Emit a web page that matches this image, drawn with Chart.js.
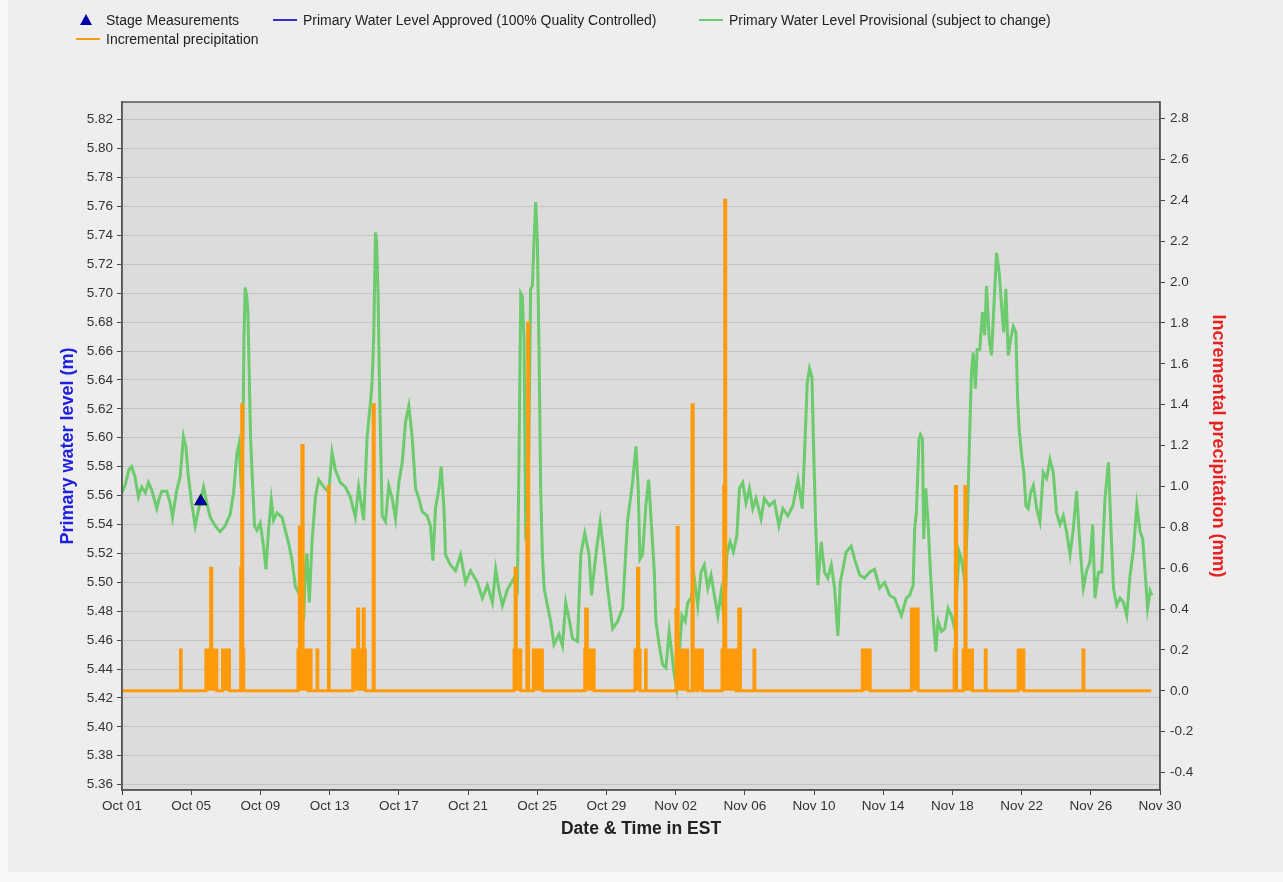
<!DOCTYPE html>
<html>
<head>
<meta charset="utf-8">
<script src="https://cdn.jsdelivr.net/npm/chart.js@4.4.1/dist/chart.umd.min.js"></script>
<style>
html,body{margin:0;padding:0;background:#eeeeee;}
#wrap{position:relative;width:1283px;height:882px;overflow:hidden;}
canvas{position:absolute;left:0;top:0;}
.lg{position:absolute;display:flex;align-items:center;font-family:"Liberation Sans",Arial,sans-serif;font-size:14px;color:#222;white-space:nowrap;height:18px;}
.sw{display:inline-block;width:24px;height:18px;position:relative;margin-right:6px;}
.sw .ln{position:absolute;left:0;right:0;top:8px;height:2px;}
.sw .tri{position:absolute;left:4px;top:3px;width:0;height:0;border-left:6px solid transparent;border-right:6px solid transparent;border-bottom:11px solid #0000aa;}
</style>
</head>
<body>
<div id="wrap"><canvas id="c" width="1283" height="882"></canvas></div>
<script>
// ---- data (day offset from Oct 01 00:00 EST) ----
const levelDays = [
 0.00,0.20,0.40,0.56,0.75,0.95,1.14,1.35,1.53,1.72,2.01,2.15,2.30,2.59,2.78,2.92,3.05,3.17,3.36,3.46,
 3.55,3.69,3.84,4.00,4.12,4.23,4.42,4.71,4.90,5.10,5.39,5.67,5.96,6.25,6.45,6.64,6.77,6.89,6.99,7.05,
 7.12,7.22,7.28,7.35,7.43,7.51,7.60,7.66,7.80,7.99,8.18,8.32,8.47,8.63,8.76,8.96,9.25,9.44,9.63,9.82,
 10.02,10.21,10.36,10.50,10.60,10.69,10.83,10.98,11.18,11.37,11.66,11.95,12.14,12.33,12.62,12.91,13.20,13.49,13.68,13.97,
 14.17,14.36,14.45,14.55,14.65,14.72,14.80,14.88,14.96,15.04,15.23,15.42,15.62,15.81,16.00,16.20,16.39,16.58,16.77,16.97,
 17.16,17.35,17.64,17.83,17.97,18.12,18.32,18.45,18.61,18.70,18.99,19.28,19.57,19.86,20.15,20.54,20.83,21.12,21.41,21.60,
 21.79,21.99,22.28,22.66,22.85,22.95,23.05,23.14,23.24,23.34,23.43,23.53,23.62,23.72,23.82,23.91,24.01,24.11,24.20,24.30,
 24.40,24.59,24.78,24.97,25.26,25.46,25.65,25.84,26.04,26.33,26.52,26.75,27.00,27.14,27.39,27.64,27.87,28.07,28.36,28.65,
 28.94,29.22,29.51,29.71,29.84,29.94,30.09,30.28,30.44,30.57,30.77,30.86,31.05,31.25,31.44,31.63,31.79,31.92,32.06,32.21,
 32.37,32.56,32.70,32.89,33.08,33.28,33.47,33.66,33.86,34.05,34.24,34.44,34.63,34.82,34.96,35.15,35.34,35.54,35.69,35.88,
 36.07,36.27,36.46,36.65,36.94,37.13,37.42,37.71,37.97,38.20,38.49,38.78,39.07,39.32,39.45,39.61,39.74,39.88,39.97,40.09,
 40.22,40.42,40.61,40.80,41.00,41.19,41.38,41.52,41.67,41.86,42.15,42.35,42.64,42.92,43.21,43.50,43.79,44.08,44.37,44.66,
 45.05,45.34,45.53,45.73,45.82,45.92,46.07,46.15,46.27,46.34,46.46,46.59,46.73,46.88,47.04,47.17,47.37,47.56,47.75,47.94,
 48.14,48.23,48.39,48.52,48.72,48.85,49.01,49.10,49.20,49.33,49.43,49.58,49.74,49.87,49.97,50.13,50.26,50.40,50.55,50.71,
 50.84,50.97,51.09,51.23,51.36,51.52,51.67,51.77,51.86,52.00,52.13,52.25,52.38,52.52,52.68,52.87,53.06,53.25,53.45,53.64,
 53.83,54.02,54.22,54.41,54.60,54.80,54.99,55.18,55.37,55.57,55.76,55.95,56.11,56.24,56.44,56.63,56.82,57.02,57.15,57.31,
 57.50,57.69,57.89,58.08,58.27,58.47,58.66,58.85,59.00,59.14,59.28,59.43,59.53
];
const levelValues = [
 5.562,5.568,5.578,5.580,5.573,5.559,5.566,5.562,5.569,5.564,5.551,5.558,5.563,5.563,5.555,5.545,5.555,5.564,5.573,5.587,
 5.601,5.594,5.573,5.557,5.548,5.539,5.550,5.566,5.555,5.545,5.539,5.535,5.539,5.547,5.562,5.589,5.596,5.566,5.600,5.670,
 5.704,5.697,5.686,5.647,5.601,5.578,5.555,5.539,5.536,5.541,5.525,5.509,5.536,5.557,5.543,5.548,5.545,5.536,5.527,5.516,
 5.497,5.493,5.486,5.474,5.509,5.520,5.486,5.527,5.559,5.571,5.566,5.562,5.590,5.578,5.569,5.566,5.559,5.545,5.566,5.543,
 5.601,5.624,5.637,5.670,5.742,5.735,5.700,5.640,5.590,5.546,5.542,5.567,5.558,5.544,5.569,5.583,5.611,5.622,5.601,5.565,
 5.558,5.549,5.546,5.539,5.515,5.551,5.565,5.580,5.551,5.519,5.512,5.508,5.519,5.500,5.508,5.500,5.489,5.498,5.486,5.509,
 5.495,5.484,5.495,5.503,5.491,5.588,5.700,5.698,5.668,5.530,5.528,5.611,5.703,5.705,5.737,5.763,5.737,5.657,5.565,5.519,
 5.496,5.484,5.473,5.457,5.464,5.456,5.486,5.475,5.461,5.459,5.519,5.534,5.519,5.491,5.519,5.542,5.519,5.496,5.468,5.473,
 5.482,5.542,5.569,5.594,5.565,5.516,5.519,5.553,5.571,5.546,5.507,5.473,5.457,5.443,5.441,5.466,5.450,5.436,5.427,5.450,
 5.477,5.473,5.486,5.489,5.503,5.484,5.507,5.512,5.496,5.505,5.491,5.477,5.493,5.473,5.519,5.528,5.521,5.532,5.565,5.569,
 5.555,5.565,5.551,5.558,5.544,5.558,5.553,5.556,5.539,5.551,5.546,5.553,5.571,5.551,5.588,5.638,5.648,5.642,5.597,5.542,
 5.498,5.528,5.507,5.503,5.512,5.496,5.463,5.500,5.509,5.521,5.525,5.516,5.505,5.503,5.507,5.509,5.496,5.500,5.491,5.489,
 5.477,5.489,5.491,5.498,5.537,5.549,5.599,5.602,5.599,5.530,5.565,5.542,5.507,5.477,5.452,5.473,5.466,5.468,5.482,5.477,
 5.468,5.489,5.521,5.516,5.500,5.537,5.608,5.645,5.659,5.634,5.661,5.661,5.687,5.671,5.705,5.668,5.657,5.691,5.728,5.714,
 5.691,5.673,5.703,5.657,5.668,5.677,5.673,5.627,5.606,5.588,5.576,5.553,5.551,5.562,5.567,5.551,5.542,5.576,5.572,5.585,
 5.576,5.548,5.540,5.546,5.535,5.519,5.537,5.563,5.526,5.496,5.508,5.514,5.540,5.489,5.507,5.507,5.558,5.583,5.542,5.496,
 5.484,5.489,5.486,5.477,5.505,5.523,5.553,5.535,5.530,5.507,5.482,5.494,5.491
];
const stageDays = [4.55];
const stageValues = [5.556];
const precipStart = [3.38,4.85,5.12,5.19,5.81,6.86,6.92,6.98,10.17,10.25,10.34,10.40,10.47,10.88,11.27,11.93,13.34,13.62,13.68,13.94,
 14.00,14.52,22.66,22.72,22.79,23.40,23.45,23.78,26.75,26.80,26.90,29.65,29.80,29.87,30.26,32.02,32.09,32.15,32.95,33.05,
 33.30,34.68,34.78,34.84,34.90,35.65,36.53,42.79,45.63,48.10,48.17,48.62,48.72,48.79,49.90,51.80,55.55];
const precipEnd = [3.42,5.12,5.19,5.48,6.21,6.92,6.98,7.04,10.25,10.34,10.40,10.47,10.75,10.93,11.32,11.98,13.62,13.68,13.94,14.00,
 14.07,14.58,22.72,22.79,23.05,23.45,23.51,24.30,26.80,26.90,27.29,29.80,29.87,29.95,30.30,32.09,32.15,32.70,33.02,33.25,
 33.55,34.78,34.84,34.90,35.50,35.75,36.58,43.25,46.02,48.17,48.24,48.72,48.79,49.16,49.95,52.13,55.60];
const precipValue = [0.2,0.2,0.6,0.2,0.2,0.6,1.4,0.2,0.2,0.8,0.2,1.2,0.2,0.2,0.2,1.0,0.2,0.4,0.2,0.4,
 0.2,1.4,0.2,0.6,0.2,0.8,1.8,0.2,0.2,0.4,0.2,0.2,0.6,0.2,0.2,0.4,0.8,0.2,1.4,0.2,
 0.2,0.2,1.0,2.4,0.2,0.4,0.2,0.2,0.4,0.2,1.0,0.2,1.0,0.2,0.2,0.2,0.2];
const precipLastDay = 59.5;
const xTickLabels = ['Oct 01','Oct 05','Oct 09','Oct 13','Oct 17','Oct 21','Oct 25','Oct 29','Nov 02','Nov 06','Nov 10','Nov 14','Nov 18','Nov 22','Nov 26','Nov 30'];
const leftTicks = [5.36,5.38,5.40,5.42,5.44,5.46,5.48,5.50,5.52,5.54,5.56,5.58,5.60,5.62,5.64,5.66,5.68,5.70,5.72,5.74,5.76,5.78,5.80,5.82];
const rightTicks = [-0.4,-0.2,0.0,0.2,0.4,0.6,0.8,1.0,1.2,1.4,1.6,1.8,2.0,2.2,2.4,2.6,2.8];

// ---- build datasets ----
const levelPoints = levelDays.map((d, i) => ({x: d, y: levelValues[i]}));
const stagePoints = stageDays.map((d, i) => ({x: d, y: stageValues[i]}));
const precipPoints = [{x: 0, y: 0}];
for (let i = 0; i < precipStart.length; i++) {
  precipPoints.push({x: precipStart[i], y: precipValue[i]});
  const next = precipStart[i + 1];
  if (next === undefined || Math.abs(next - precipEnd[i]) > 1e-9) {
    precipPoints.push({x: precipEnd[i], y: 0});
  }
}
precipPoints.push({x: precipLastDay, y: 0});

const FONT = "'Liberation Sans', Arial, Helvetica, sans-serif";
Chart.defaults.font.family = FONT;

const bgPlugin = {
  id: 'bgPlugin',
  beforeDraw(chart) {
    const {ctx, chartArea: a} = chart;
    ctx.save();
    ctx.fillStyle = '#f7f7f7';
    ctx.fillRect(0, 0, chart.width, chart.height);
    ctx.fillStyle = '#eeeeee';
    ctx.fillRect(8, 0, chart.width - 8, 872);
    ctx.fillStyle = '#dcdcdc';
    ctx.fillRect(a.left, a.top, a.right - a.left, a.bottom - a.top);
    ctx.restore();
  },
  afterDraw(chart) {
    const {ctx, chartArea: a} = chart;
    ctx.save();
    ctx.strokeStyle = '#555555';
    ctx.lineWidth = 1.5;
    ctx.strokeRect(a.left, a.top, a.right - a.left, a.bottom - a.top);
    ctx.restore();
  }
};

const tickFont = {size: 13.5};
const chart = new Chart(document.getElementById('c'), {
  type: 'line',
  data: {
    datasets: [
      {label: 'Stage Measurements', data: stagePoints, showLine: false, pointStyle: 'triangle',
       pointRadius: 7, backgroundColor: '#0000aa', borderColor: '#000044', borderWidth: 1, yAxisID: 'y', order: 0},
      {label: 'Primary Water Level Approved (100% Quality Controlled)', data: [], borderColor: '#3333cc',
       backgroundColor: '#3333cc', pointRadius: 0, yAxisID: 'y', order: 3},
      {label: 'Primary Water Level Provisional (subject to change)', data: levelPoints, borderColor: '#6ccb6c',
       backgroundColor: '#6ccb6c', borderWidth: 3, pointRadius: 0, tension: 0, yAxisID: 'y', order: 2},
      {label: 'Incremental precipitation', data: precipPoints, stepped: true, borderColor: '#ff9a0a',
       backgroundColor: '#ff9a0a', fill: 'origin', borderWidth: 3, pointRadius: 0, yAxisID: 'y1', order: 1}
    ]
  },
  options: {
    responsive: false,
    animation: false,
    events: [],
    devicePixelRatio: 1,
    layout: {padding: {top: 102, left: 0, right: 0, bottom: 0}},
    plugins: {legend: {display: false}, tooltip: {enabled: false}},
    scales: {
      x: {
        type: 'linear', position: 'bottom', min: 0, max: 60,
        afterFit(s) { s.height = 92; },
        ticks: {stepSize: 4, autoSkip: false, maxRotation: 0, padding: 3, color: '#333', font: tickFont,
                callback: (v) => { const k = Math.round(v / 4); return xTickLabels[k] !== undefined ? xTickLabels[k] : ''; }},
        grid: {drawOnChartArea: false, drawTicks: true, tickLength: 5, tickColor: '#444'},
        border: {display: true, color: '#555', width: 1.5},
        title: {display: true, text: 'Date & Time in EST', color: '#222', font: {size: 17.5, weight: 'bold'},
                padding: {top: 0, bottom: 42}}
      },
      y: {
        type: 'linear', position: 'left', min: 5.3563, max: 5.8323,
        afterFit(s) { s.width = 122; },
        afterBuildTicks(s) { s.ticks = leftTicks.map(v => ({value: v})); },
        ticks: {autoSkip: false, padding: 4, color: '#333', font: tickFont, callback: (v) => Number(v).toFixed(2)},
        grid: {color: '#c4c4c4', lineWidth: 1, drawTicks: true, tickLength: 5, tickColor: '#444'},
        border: {display: true, color: '#555', width: 1.5},
        title: {display: true, text: 'Primary water level (m)', color: '#2020e0', font: {size: 18, weight: 'bold'},
                padding: {top: 57, bottom: 0}}
      },
      y1: {
        type: 'linear', position: 'right', min: -0.485, max: 2.881,
        afterFit(s) { s.width = 123; },
        afterBuildTicks(s) { s.ticks = rightTicks.map(v => ({value: v})); },
        ticks: {autoSkip: false, padding: 5, color: '#333', font: tickFont, callback: (v) => Number(v).toFixed(1)},
        grid: {drawOnChartArea: false, drawTicks: true, tickLength: 5, tickColor: '#444'},
        border: {display: true, color: '#555', width: 1.5},
        title: {display: true, text: 'Incremental precipitation (mm)', color: '#e82020', font: {size: 18, weight: 'bold'},
                padding: {top: 54, bottom: 0}}
      }
    }
  },
  plugins: [bgPlugin]
});

// ---- HTML legend built from the datasets ----
const legendSpots = [[76, 20], [273, 20], [699, 20], [76, 39]];
const wrap = document.getElementById('wrap');
chart.data.datasets.forEach((ds, i) => {
  const div = document.createElement('div');
  div.className = 'lg';
  div.style.left = legendSpots[i][0] + 'px';
  div.style.top = (legendSpots[i][1] - 9) + 'px';
  const sw = document.createElement('span');
  sw.className = 'sw';
  const mk = document.createElement('span');
  if (ds.showLine === false) {
    mk.className = 'tri';
  } else {
    mk.className = 'ln';
    mk.style.background = ds.borderColor;
  }
  sw.appendChild(mk);
  div.appendChild(sw);
  const t = document.createElement('span');
  t.textContent = ds.label;
  div.appendChild(t);
  wrap.appendChild(div);
});
</script>
</body>
</html>
